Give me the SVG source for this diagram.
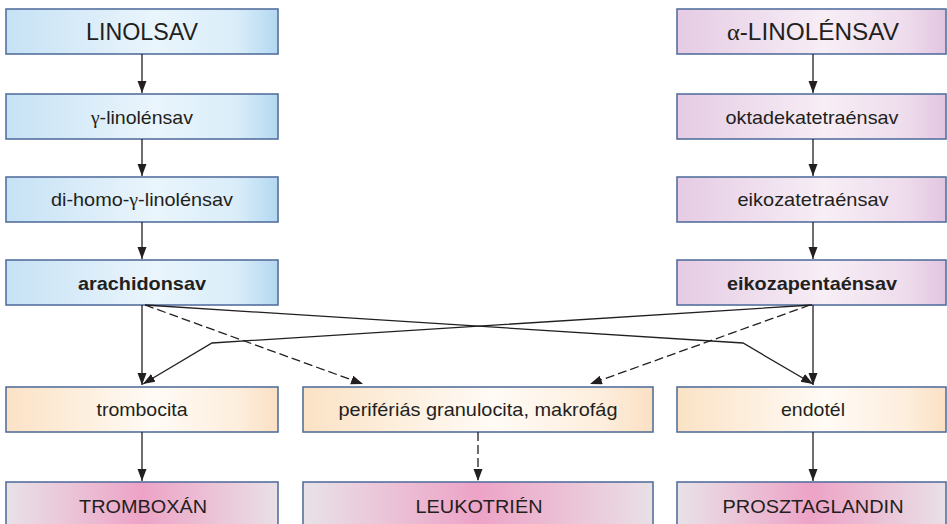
<svg xmlns="http://www.w3.org/2000/svg" width="947" height="524" viewBox="0 0 947 524">
<defs>
<linearGradient id="gBlue" x1="0" y1="0" x2="1" y2="0">
<stop offset="0" stop-color="#c6e2f5"/><stop offset="0.55" stop-color="#eaf5fc"/><stop offset="0.85" stop-color="#d9edf9"/><stop offset="1" stop-color="#b3d8f1"/>
</linearGradient>
<linearGradient id="gPurple" x1="0" y1="0" x2="1" y2="0">
<stop offset="0" stop-color="#e5cbe4"/><stop offset="0.55" stop-color="#f7eef6"/><stop offset="0.85" stop-color="#eedcec"/><stop offset="1" stop-color="#e2c5e0"/>
</linearGradient>
<linearGradient id="gPeach" x1="0" y1="0" x2="1" y2="0">
<stop offset="0" stop-color="#fbe2c5"/><stop offset="0.55" stop-color="#fffbf6"/><stop offset="0.85" stop-color="#fdeedd"/><stop offset="1" stop-color="#fbe0c3"/>
</linearGradient>
<linearGradient id="gPink" x1="0" y1="0" x2="1" y2="0">
<stop offset="0" stop-color="#e8e2e8"/><stop offset="0.5" stop-color="#eda3c6"/><stop offset="1" stop-color="#e9e0e6"/>
</linearGradient>
<marker id="ah" markerUnits="userSpaceOnUse" markerWidth="13" markerHeight="10" refX="12" refY="4.5" orient="auto">
<path d="M0,0 L12,4.5 L0,9 Z" fill="#231f20"/>
</marker>
</defs>
<style>
rect{stroke:#56709e;stroke-width:1.6}
.b{fill:url(#gBlue)}
.p{fill:url(#gPurple)}
.o{fill:url(#gPeach)}
.k{fill:url(#gPink)}
text{font-family:"Liberation Sans",Arial,sans-serif;fill:#231f20;text-anchor:middle}
.g{font-family:"Liberation Serif","Times New Roman",serif}
.big{font-size:23px}
.n{font-size:19px}
.bold{font-size:19px;font-weight:bold}
.c line,.c polyline{stroke:#231f20;stroke-width:1.3;fill:none;marker-end:url(#ah)}
.c .d{stroke-dasharray:9 4}
</style>
<g id="linolsav"><rect class="b" x="6" y="9" width="272" height="45"/><text class="big" x="142" y="40" textLength="112" lengthAdjust="spacingAndGlyphs">LINOLSAV</text></g>
<g id="gamma-linolensav"><rect class="b" x="6" y="94" width="272" height="45"/><text class="n" x="142" y="124" textLength="102" lengthAdjust="spacingAndGlyphs"><tspan class="g">γ</tspan>-linolénsav</text></g>
<g id="dihomo"><rect class="b" x="6" y="177" width="272" height="45"/><text class="n" x="142" y="206" textLength="182" lengthAdjust="spacingAndGlyphs">di-homo-<tspan class="g">γ</tspan>-linolénsav</text></g>
<g id="arachidonsav"><rect class="b" x="6" y="260" width="272" height="45"/><text class="bold" x="142" y="290" textLength="128" lengthAdjust="spacingAndGlyphs">arachidonsav</text></g>
<g id="alfa-linolensav"><rect class="p" x="677" y="9" width="269" height="45"/><text class="big" x="813" y="40" textLength="172" lengthAdjust="spacingAndGlyphs"><tspan class="g">α</tspan>-LINOLÉNSAV</text></g>
<g id="oktadekatetraensav"><rect class="p" x="677" y="94" width="269" height="45"/><text class="n" x="812" y="124" textLength="173" lengthAdjust="spacingAndGlyphs">oktadekatetraénsav</text></g>
<g id="eikozatetraensav"><rect class="p" x="677" y="177" width="269" height="45"/><text class="n" x="813" y="206" textLength="151" lengthAdjust="spacingAndGlyphs">eikozatetraénsav</text></g>
<g id="eikozapentaensav"><rect class="p" x="677" y="260" width="269" height="45"/><text class="bold" x="812" y="290" textLength="170" lengthAdjust="spacingAndGlyphs">eikozapentaénsav</text></g>
<g id="trombocita"><rect class="o" x="6" y="387" width="272" height="45"/><text class="n" x="142" y="416" textLength="91" lengthAdjust="spacingAndGlyphs">trombocita</text></g>
<g id="granulocita"><rect class="o" x="303" y="387" width="350" height="45"/><text class="n" x="478" y="416" textLength="279" lengthAdjust="spacingAndGlyphs">perifériás granulocita, makrofág</text></g>
<g id="endotel"><rect class="o" x="677" y="387" width="269" height="45"/><text class="n" x="813" y="416" textLength="64" lengthAdjust="spacingAndGlyphs">endotél</text></g>
<g id="tromboxan"><rect class="k" x="6" y="482" width="272" height="50"/><text class="n" x="143" y="513" textLength="128" lengthAdjust="spacingAndGlyphs">TROMBOXÁN</text></g>
<g id="leukotrien"><rect class="k" x="303" y="482" width="350" height="50"/><text class="n" x="479" y="513" textLength="127" lengthAdjust="spacingAndGlyphs">LEUKOTRIÉN</text></g>
<g id="prosztaglandin"><rect class="k" x="677" y="482" width="269" height="50"/><text class="n" x="813" y="513" textLength="181" lengthAdjust="spacingAndGlyphs">PROSZTAGLANDIN</text></g>
<g id="connectors" class="c">
<line x1="142" y1="54" x2="142" y2="93"/>
<line x1="142" y1="139" x2="142" y2="176"/>
<line x1="142" y1="222" x2="142" y2="259"/>
<line x1="813" y1="54" x2="813" y2="93"/>
<line x1="813" y1="139" x2="813" y2="176"/>
<line x1="813" y1="222" x2="813" y2="259"/>
<line x1="142" y1="305" x2="142" y2="385"/>
<line class="d" x1="145" y1="305" x2="363" y2="384"/>
<polyline points="145,305 743,343 813,384"/>
<line x1="813" y1="305" x2="813" y2="385"/>
<polyline points="812,305 212,343 143,384"/>
<line class="d" x1="810" y1="305" x2="590" y2="384"/>
<line x1="142" y1="432" x2="142" y2="481"/>
<line class="d" x1="478" y1="432" x2="478" y2="481"/>
<line x1="813" y1="432" x2="813" y2="481"/>
</g>
</svg>
